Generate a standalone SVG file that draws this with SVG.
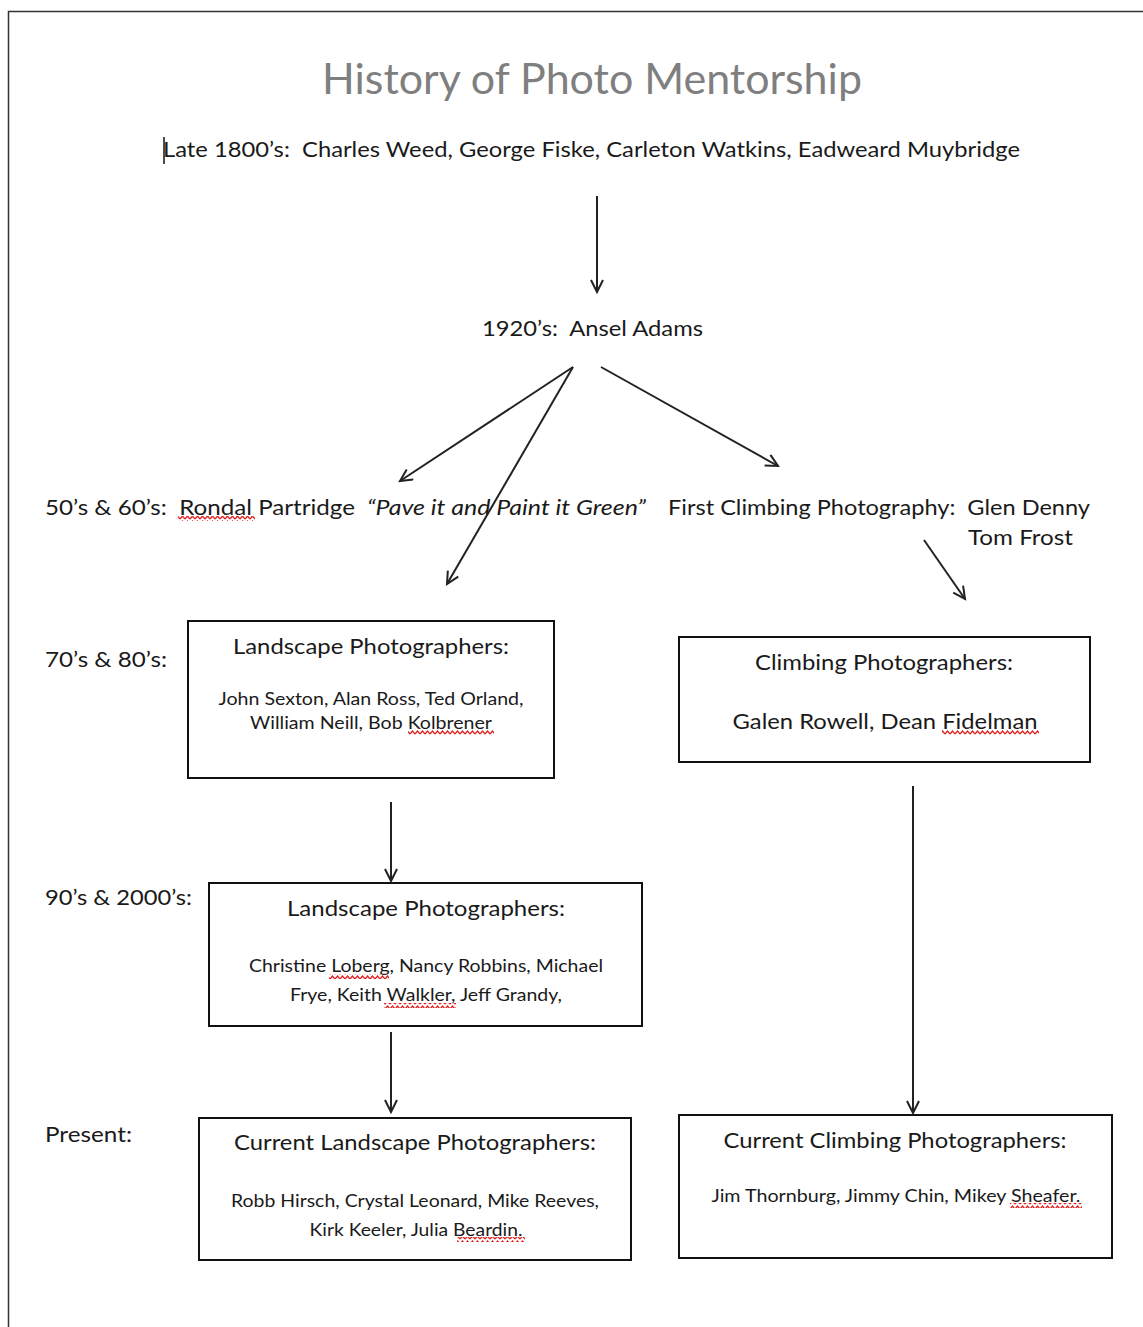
<svg xmlns="http://www.w3.org/2000/svg" width="1143" height="1327" viewBox="0 0 1143 1327">
<style>
text{font-family:Lato,"Open Sans","Liberation Sans",sans-serif;fill:#1a1a1a;white-space:pre}
.t{font-size:42px;fill:#7f7f7f}
.m{font-size:22px}
.h{font-size:22px;text-anchor:middle}
.s{font-size:17px;text-anchor:middle}
.box{fill:#fff;stroke:#111;stroke-width:2}
.c{stroke:#222;stroke-width:2;fill:none;marker-end:url(#ah)}
.sq{fill:url(#wave)}
</style>
<defs>
<marker id="ah" markerUnits="userSpaceOnUse" markerWidth="16" markerHeight="16" refX="13" refY="7" orient="auto">
<path d="M1,1 L13,7 L1,13" fill="none" stroke="#222" stroke-width="2"/>
</marker>
<pattern id="wave" patternUnits="userSpaceOnUse" width="5" height="5">
<path d="M0,4 L2.5,1 L5,4" fill="none" stroke="#e02020" stroke-width="1.3"/>
</pattern>
</defs>
<rect width="1143" height="1327" fill="#fff"/>
<path d="M8.5,1327 V11.5 H1143" fill="none" stroke="#333" stroke-width="1.5"/>

<g id="title"><text class="t" x="322" y="94" textLength="540" lengthAdjust="spacingAndGlyphs">History of Photo Mentorship</text></g>
<g id="late1800"><line x1="164" y1="137" x2="164" y2="164" stroke="#111" stroke-width="1.5"/><text class="m" x="163" y="157" textLength="857" lengthAdjust="spacingAndGlyphs">Late 1800’s:  Charles Weed, George Fiske, Carleton Watkins, Eadweard Muybridge</text></g>
<g id="n1920"><text class="m" x="482" y="336" textLength="221" lengthAdjust="spacingAndGlyphs">1920’s:  Ansel Adams</text></g>
<g id="n5060"><text class="m" x="45" y="515" textLength="310" lengthAdjust="spacingAndGlyphs">50’s &amp; 60’s:  Rondal Partridge</text><text class="m" x="367" y="515" font-style="italic" textLength="279" lengthAdjust="spacingAndGlyphs">“Pave it and Paint it Green”</text><rect class="sq" x="178" y="516" width="77" height="5"/></g>
<g id="climb1"><text class="m" x="668" y="515" textLength="422" lengthAdjust="spacingAndGlyphs">First Climbing Photography:  Glen Denny</text><text class="m" x="968" y="545" textLength="105" lengthAdjust="spacingAndGlyphs">Tom Frost</text></g>
<g id="lbl7080"><text class="m" x="45" y="667" textLength="122" lengthAdjust="spacingAndGlyphs">70’s &amp; 80’s:</text></g>
<g id="lbl9000"><text class="m" x="45" y="905" textLength="147" lengthAdjust="spacingAndGlyphs">90’s &amp; 2000’s:</text></g>
<g id="lblPresent"><text class="m" x="45" y="1142" textLength="87" lengthAdjust="spacingAndGlyphs">Present:</text></g>

<g id="land7080"><rect class="box" x="188" y="621" width="366" height="157"/><text class="h" x="371" y="654" textLength="276" lengthAdjust="spacingAndGlyphs">Landscape Photographers:</text><text class="s" x="371" y="705" textLength="305" lengthAdjust="spacingAndGlyphs">John Sexton, Alan Ross, Ted Orland,</text><text class="s" x="371" y="729" textLength="242" lengthAdjust="spacingAndGlyphs">William Neill, Bob Kolbrener</text><rect class="sq" x="408" y="730" width="86" height="5"/></g>
<g id="climb7080"><rect class="box" x="679" y="637" width="411" height="125"/><text class="h" x="884" y="670" textLength="258" lengthAdjust="spacingAndGlyphs">Climbing Photographers:</text><text class="h" x="885" y="729" textLength="305" lengthAdjust="spacingAndGlyphs">Galen Rowell, Dean Fidelman</text><rect class="sq" x="942" y="730" width="97" height="5"/></g>
<g id="land9000"><rect class="box" x="209" y="883" width="433" height="143"/><text class="h" x="426" y="916" textLength="278" lengthAdjust="spacingAndGlyphs">Landscape Photographers:</text><text class="s" x="426" y="972" textLength="354" lengthAdjust="spacingAndGlyphs">Christine Loberg, Nancy Robbins, Michael</text><text class="s" x="426" y="1001" textLength="272" lengthAdjust="spacingAndGlyphs">Frye, Keith Walkler, Jeff Grandy,</text><rect class="sq" x="329" y="974" width="60" height="5"/><rect class="sq" x="384" y="1003" width="72" height="5"/></g>
<g id="landPresent"><rect class="box" x="199" y="1118" width="432" height="142"/><text class="h" x="415" y="1150" textLength="362" lengthAdjust="spacingAndGlyphs">Current Landscape Photographers:</text><text class="s" x="415" y="1207" textLength="368" lengthAdjust="spacingAndGlyphs">Robb Hirsch, Crystal Leonard, Mike Reeves,</text><text class="s" x="416" y="1236" textLength="213" lengthAdjust="spacingAndGlyphs">Kirk Keeler, Julia Beardin.</text><rect class="sq" x="457" y="1237" width="68" height="5"/></g>
<g id="climbPresent"><rect class="box" x="679" y="1115" width="433" height="143"/><text class="h" x="895" y="1148" textLength="343" lengthAdjust="spacingAndGlyphs">Current Climbing Photographers:</text><text class="s" x="896" y="1202" textLength="369" lengthAdjust="spacingAndGlyphs">Jim Thornburg, Jimmy Chin, Mikey Sheafer.</text><rect class="sq" x="1010" y="1203" width="72" height="5"/></g>

<g id="connectors">
<line class="c" x1="597" y1="196" x2="597" y2="292"/>
<line class="c" x1="573" y1="367" x2="400" y2="481"/>
<line class="c" x1="573" y1="367" x2="447" y2="584"/>
<line class="c" x1="601" y1="367" x2="778" y2="466"/>
<line class="c" x1="924" y1="540" x2="965" y2="599"/>
<line class="c" x1="391" y1="802" x2="391" y2="881"/>
<line class="c" x1="391" y1="1032" x2="391" y2="1112"/>
<line class="c" x1="913" y1="786" x2="913" y2="1113"/>
</g>
</svg>
